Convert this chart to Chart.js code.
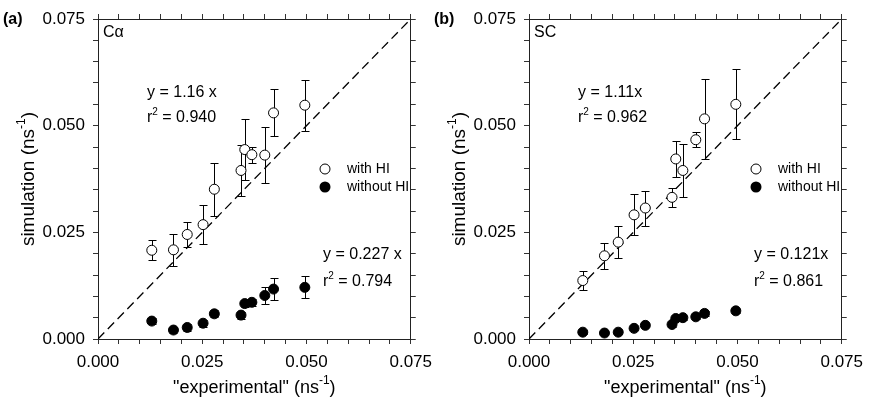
<!DOCTYPE html>
<html>
<head>
<meta charset="utf-8">
<script src="https://cdn.jsdelivr.net/npm/chart.js@4.4.0/dist/chart.umd.min.js"></script>
<style>
    body { margin: 0; background: #fff; }
    #wrap { position: relative; width: 871px; height: 404px; overflow: hidden; }
    canvas { position: absolute; top: 0; }
</style>
</head>
<body>
<div id="wrap">
    <canvas id="chartA" width="440" height="404" style="left:0px"></canvas>
    <canvas id="chartB" width="440" height="404" style="left:431px"></canvas>
</div>
<script>
// "experimental" rates (ns^-1), same for both panels
const experimental = [0.0129, 0.0181, 0.0214, 0.0252, 0.0279, 0.0343, 0.0352, 0.0369, 0.0400, 0.0421, 0.0496];
const tickLabels = [0, 0.025, 0.05, 0.075];

// panel (a) C-alpha
const caWithHI = [0.0208, 0.0209, 0.0245, 0.0268, 0.0351, 0.0395, 0.0444, 0.0432, 0.0431, 0.0530, 0.0548];
const caWithHIErr = [0.0023, 0.0037, 0.0029, 0.0046, 0.0062, 0.0060, 0.0072, 0.0019, 0.0066, 0.0055, 0.0060];
const caWithoutHI = [0.0042, 0.0021, 0.0027, 0.0037, 0.0059, 0.0056, 0.0083, 0.0086, 0.0102, 0.0117, 0.0121];
const caWithoutHIErr = [0.0008, 0.0008, 0.0008, 0.0008, 0.0008, 0.0008, 0.0008, 0.0008, 0.0020, 0.0025, 0.0026];

// panel (b) side chain
const scWithHI = [0.0137, 0.0195, 0.0227, 0.0291, 0.0307, 0.0332, 0.0422, 0.0395, 0.0467, 0.0516, 0.0550];
const scWithHIErr = [0.0023, 0.0030, 0.0038, 0.0048, 0.0041, 0.0023, 0.0043, 0.0063, 0.0017, 0.0093, 0.0082];
const scWithoutHI = [0.0016, 0.0014, 0.0016, 0.0025, 0.0032, 0.0034, 0.0048, 0.0050, 0.0052, 0.0060, 0.0066];
const scWithoutHIErr = [0.0005, 0.0005, 0.0005, 0.0005, 0.0005, 0.0005, 0.0005, 0.0005, 0.0005, 0.0005, 0.0005];

const FONT = '"Liberation Sans", Arial, Helvetica, sans-serif';
Chart.defaults.font.family = FONT;
Chart.defaults.color = '#000';

// texto com expoente: parts = [[texto, sobrescrito?], ...]
function larguraRich(ctx, parts, size) {
    let w = 0;
    parts.forEach(([t, sup]) => {
        ctx.font = (sup ? Math.round(size * 0.65) : size) + 'px ' + FONT;
        w += ctx.measureText(t).width;
    });
    return w;
}

function drawRich(ctx, parts, x, y, size) {
    let cx = x;
    parts.forEach(([t, sup]) => {
        ctx.font = (sup ? Math.round(size * 0.65) : size) + 'px ' + FONT;
        ctx.fillText(t, cx, sup ? y - size * 0.38 : y);
        cx += ctx.measureText(t).width;
    });
}

const errorBars = {
    id: 'errorBars',
    beforeDatasetsDraw(chart, args, opts) {
        const ctx = chart.ctx;
        const xs = chart.scales.x, ys = chart.scales.y;
        ctx.save();
        ctx.strokeStyle = '#000';
        ctx.lineWidth = 1;
        opts.series.forEach(s => {
            experimental.forEach((xv, i) => {
                const e = s.err[i];
                if (!e) return;
                const px = Math.round(xs.getPixelForValue(xv)) + 0.5;
                const top = Math.round(ys.getPixelForValue(s.values[i] + e)) + 0.5;
                const bot = Math.round(ys.getPixelForValue(s.values[i] - e)) + 0.5;
                ctx.beginPath();
                ctx.moveTo(px, top); ctx.lineTo(px, bot);
                ctx.moveTo(px - 4, top); ctx.lineTo(px + 4, top);
                ctx.moveTo(px - 4, bot); ctx.lineTo(px + 4, bot);
                ctx.stroke();
            });
        });
        ctx.restore();
    }
};

const textos = {
    id: 'textos',
    afterDraw(chart, args, o) {
        const ctx = chart.ctx;
        const area = chart.chartArea;
        ctx.save();
        ctx.fillStyle = '#000';
        ctx.textBaseline = 'middle';
        ctx.textAlign = 'left';

        // painel
        ctx.font = 'bold 16px ' + FONT;
        ctx.fillText(o.painel, 3, 20);

        // tag
        ctx.font = '16px ' + FONT;
        ctx.fillText(o.tag, area.left + 5, 33);

        // titulos dos eixos
        const tx = [['"experimental" (ns', false], ['-1', true], [')', false]];
        const wx = larguraRich(ctx, tx, 18);
        drawRich(ctx, tx, (area.left + area.right) / 2 - wx / 2, 388, 18);

        const ty = [['simulation (ns', false], ['-1', true], [')', false]];
        const wy = larguraRich(ctx, ty, 19);
        ctx.save();
        ctx.translate(29, (area.top + area.bottom) / 2);
        ctx.rotate(-Math.PI / 2);
        drawRich(ctx, ty, -wy / 2, 0, 19);
        ctx.restore();

        // equacoes
        drawRich(ctx, [[o.eq1, false]], 147, 93, 16);
        drawRich(ctx, [['r', false], ['2', true], [' = ' + o.r1, false]], 147, 118, 16);
        drawRich(ctx, [[o.eq2, false]], 323, 255, 16);
        drawRich(ctx, [['r', false], ['2', true], [' = ' + o.r2, false]], 323, 282, 16);

        // legenda
        ctx.lineWidth = 1;
        ctx.strokeStyle = '#000';
        ctx.beginPath();
        ctx.arc(325, 169, 5, 0, Math.PI * 2);
        ctx.fillStyle = '#fff'; ctx.fill(); ctx.stroke();
        ctx.beginPath();
        ctx.arc(325, 187, 5.5, 0, Math.PI * 2);
        ctx.fillStyle = '#000'; ctx.fill();
        ctx.font = '14px ' + FONT;
        ctx.fillText('with HI', 347, 169);
        ctx.fillText('without HI', 347, 187);
        ctx.restore();
    }
};

function eixo(pos, nome, mostrar, tamanho) {
    return {
        type: 'linear',
        axis: nome,
        position: pos,
        min: 0,
        max: 0.075,
        ticks: {
            display: mostrar,
            stepSize: 0.005,
            autoSkip: false,
            maxRotation: 0,
            padding: 8,
            color: '#000',
            font: { size: 17 },
            callback: v => tickLabels.some(t => Math.abs(t - v) < 1e-9) ? v.toFixed(3) : ''
        },
        grid: { drawOnChartArea: false, drawTicks: true, tickLength: 5, tickColor: '#333', tickWidth: 1 },
        border: { display: true, color: '#222', width: 1 },
        afterFit: s => { if (nome === 'x') s.height = tamanho; else s.width = tamanho; }
    };
}

function criarGrafico(id, p) {
    const ctx = document.getElementById(id).getContext('2d');
    return new Chart(ctx, {
        type: 'scatter',
        data: {
            datasets: [
                {
                    type: 'line',
                    label: 'y = x',
                    data: [{ x: 0, y: 0 }, { x: 0.075, y: 0.075 }],
                    borderColor: '#000',
                    borderWidth: 1.3,
                    borderDash: [9, 5],
                    pointRadius: 0,
                    order: 3
                },
                {
                    label: 'with HI',
                    data: experimental.map((x, i) => ({ x: x, y: p.withHI[i] })),
                    pointRadius: 5,
                    pointBackgroundColor: '#fff',
                    pointBorderColor: '#000',
                    pointBorderWidth: 1,
                    order: 2
                },
                {
                    label: 'without HI',
                    data: experimental.map((x, i) => ({ x: x, y: p.withoutHI[i] })),
                    pointRadius: 5,
                    pointBackgroundColor: '#000',
                    pointBorderColor: '#000',
                    pointBorderWidth: 1,
                    order: 1
                }
            ]
        },
        options: {
            responsive: false,
            animation: false,
            layout: { padding: 0 },
            plugins: {
                legend: { display: false },
                tooltip: { enabled: false },
                errorBars: {
                    series: [
                        { values: p.withHI, err: p.withHIErr },
                        { values: p.withoutHI, err: p.withoutHIErr }
                    ]
                },
                textos: p.textos
            },
            scales: {
                x: eixo('bottom', 'x', true, 65),
                xTop: eixo('top', 'x', false, 19),
                y: eixo('left', 'y', true, 98),
                yRight: eixo('right', 'y', false, 23)
            }
        },
        plugins: [errorBars, textos]
    });
}

window.onload = function () {
    criarGrafico('chartA', {
        withHI: caWithHI, withHIErr: caWithHIErr,
        withoutHI: caWithoutHI, withoutHIErr: caWithoutHIErr,
        textos: { painel: '(a)', tag: 'C\u03b1', eq1: 'y = 1.16 x', r1: '0.940', eq2: 'y = 0.227 x', r2: '0.794' }
    });
    criarGrafico('chartB', {
        withHI: scWithHI, withHIErr: scWithHIErr,
        withoutHI: scWithoutHI, withoutHIErr: scWithoutHIErr,
        textos: { painel: '(b)', tag: 'SC', eq1: 'y = 1.11x', r1: '0.962', eq2: 'y = 0.121x', r2: '0.861' }
    });
}
</script>
</body>
</html>
